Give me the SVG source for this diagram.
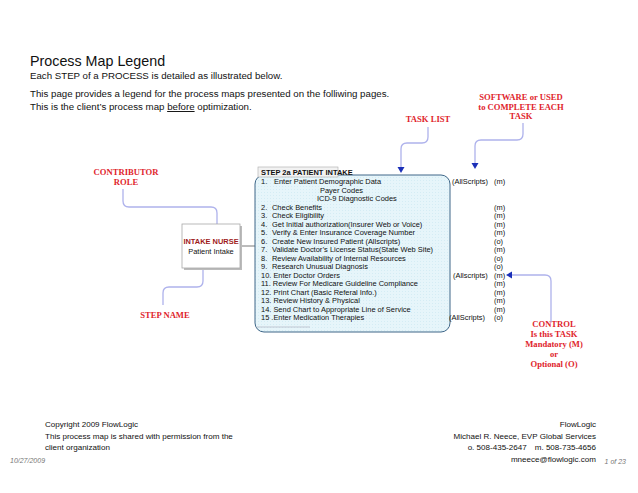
<svg xmlns="http://www.w3.org/2000/svg" width="638" height="493" viewBox="0 0 638 493">
<defs>
<style>
.s{font-family:"Liberation Sans",Arial,sans-serif;fill:#111}
.h1{font-size:14.3px}
.h2{font-size:9.7px}
.t{font-size:7.45px}
.f{font-size:8.05px}
.d{font-size:7px;font-style:italic;fill:#777}
.r{font-family:"Liberation Serif","Times New Roman",serif;font-weight:bold;font-size:8.6px;fill:#e0242c;text-anchor:middle}
.c{fill:none;stroke:#aeb2ec;stroke-width:1.3}
.a{fill:#1b2fb8}
.e{text-anchor:end}
</style>
<pattern id="dots" width="3" height="3" patternUnits="userSpaceOnUse">
<rect width="3" height="3" fill="#e6f5fa"/>
<rect width="1" height="1" fill="#d4ecf4"/>
</pattern>
</defs>
<rect width="638" height="493" fill="#fff"/>

<g id="header">
<text class="s h1" x="30" y="66">Process Map Legend</text>
<text class="s h2" x="30" y="79">Each STEP of a PROCESS is detailed as illustrated below.</text>
<text class="s h2" x="30" y="97">This page provides a legend for the process maps presented on the folliwing pages.</text>
<text class="s h2" x="30" y="110">This is the client’s process map <tspan text-decoration="underline">before</tspan> optimization.</text>
</g>

<g id="labels">
<text class="r" x="521" y="100">SOFTWARE or USED</text>
<text class="r" x="521" y="110">to COMPLETE EACH</text>
<text class="r" x="521" y="119">TASK</text>
<text class="r" x="428" y="122">TASK LIST</text>
<text class="r" x="126" y="175">CONTRIBUTOR</text>
<text class="r" x="126" y="185">ROLE</text>
<text class="r" x="165" y="318">STEP NAME</text>
<text class="r" x="554" y="327">CONTROL</text>
<text class="r" x="554" y="337">Is this TASK</text>
<text class="r" x="554" y="347">Mandatory (M)</text>
<text class="r" x="554" y="357">or</text>
<text class="r" x="554" y="367">Optional (O)</text>
</g>

<g id="connectors">
<path class="c" d="M428,127 V137 Q428,143 422,143 H407 Q401,143 401,149 V168"/>
<path class="a" d="M397.5,167 L404.5,167 L401,173 Z"/>
<path class="c" d="M523,123 V134 Q523,140 517,140 H481 Q475,140 475,146 V164"/>
<path class="a" d="M471.5,163 L478.5,163 L475,169 Z"/>
<path class="c" d="M123,189 V201 Q123,207 129,207 H211 Q217,207 217,213 V226"/>
<path class="a" d="M213.5,225 L220.5,225 L217,231 Z"/>
<path class="c" d="M163,305 V293 Q163,287 169,287 H197 Q203,287 203,281 V264"/>
<path class="a" d="M199.5,265 L206.5,265 L203,259 Z"/>
<path class="c" d="M551,322 V281 Q551,275 545,275 H511"/>
<path class="a" d="M512,271.5 L512,278.5 L506,275 Z"/>
<path d="M241,246 H255" stroke="#555" stroke-width="0.8"/>
</g>

<g id="intake-nurse">
<rect x="184" y="226" width="58" height="44" fill="#bbb"/>
<rect x="182" y="224" width="58" height="44" fill="#fff" stroke="#a8a8a8" stroke-width="0.8"/>
<text class="s t" x="211" y="243.5" text-anchor="middle" font-weight="bold" style="fill:#9e1a1a">INTAKE NURSE</text>
<text class="s t" x="211" y="253.5" text-anchor="middle">Patient Intake</text>
</g>

<g id="step-2a">
<rect x="255" y="175" width="195" height="157" rx="9" fill="url(#dots)" stroke="#3e6688" stroke-width="1"/>
<rect x="258" y="167" width="80" height="10" fill="#f2f2f2" stroke="#aaa" stroke-width="0.6"/>
<text class="s t" x="261" y="175" font-weight="bold">STEP 2a  PATIENT INTAKE</text>
<path d="M256,327 H310" stroke="#aab" stroke-width="0.6"/>
<g class="s t">
<text x="261" y="184">1.</text><text x="274" y="184">Enter Patient Demographic Data</text>
<text x="320" y="192.5">Payer Codes</text>
<text x="317" y="201">ICD-9 Diagnostic Codes</text>
<text x="261" y="209.5">2.</text><text x="272" y="209.5">Check Benefits</text>
<text x="261" y="218">3.</text><text x="272" y="218">Check Eligibility</text>
<text x="261" y="226.5">4.</text><text x="272" y="226.5">Get Initial authorization(Insurer Web or Voice)</text>
<text x="261" y="235">5.</text><text x="272" y="235">Verify &amp; Enter Insurance Coverage Number</text>
<text x="261" y="243.5">6.</text><text x="272" y="243.5">Create New Insured Patient (Allscripts)</text>
<text x="261" y="252">7.</text><text x="272" y="252">Validate Doctor’s License Status(State Web Site)</text>
<text x="261" y="260.5">8.</text><text x="272" y="260.5">Review Availability of Internal Resources</text>
<text x="261" y="269">9.</text><text x="272" y="269">Research Unusual Diagnosis</text>
<text x="261" y="277.5">10. Enter Doctor Orders</text>
<text x="261" y="286">11.  Review For Medicare Guideline Compliance</text>
<text x="261" y="294.5">12.  Print Chart (Basic Referal Info.)</text>
<text x="261" y="303">13.  Review History &amp; Physical</text>
<text x="261" y="311.5">14. Send Chart to Appropriate Line of Service</text>
<text x="261" y="320">15 .Enter Medication Therapies</text>
</g>
<g class="s t">
<text x="452" y="184">(AllScripts)</text>
<text x="453" y="277.5">(Allscripts)</text>
<text x="449" y="320">(AllScripts)</text>
<text x="494" y="184">(m)</text>
<text x="494" y="209.5">(m)</text>
<text x="494" y="218">(m)</text>
<text x="494" y="226.5">(m)</text>
<text x="494" y="235">(m)</text>
<text x="494" y="243.5">(o)</text>
<text x="494" y="252">(m)</text>
<text x="494" y="260.5">(o)</text>
<text x="494" y="269">(o)</text>
<text x="494" y="277.5">(m)</text>
<text x="494" y="286">(m)</text>
<text x="494" y="294.5">(m)</text>
<text x="494" y="303">(m)</text>
<text x="494" y="311.5">(m)</text>
<text x="494" y="320">(o)</text>
</g>
</g>

<g id="footer">
<text class="s f" x="45" y="427">Copyright 2009 FlowLogic</text>
<text class="s f" x="45" y="438.5">This process map is shared with permission from the</text>
<text class="s f" x="45" y="450">client organization</text>
<text class="s d" x="10" y="463">10/27/2009</text>
<text class="s f e" x="596" y="427">FlowLogic</text>
<text class="s f e" x="596" y="438.5">Michael R. Neece, EVP Global Services</text>
<text class="s f e" x="596" y="450">o. 508-435-2647<tspan dx="8">m. 508-735-4656</tspan></text>
<text class="s f e" x="596" y="461.5">mneece@flowlogic.com</text>
<text class="s d e" x="626" y="464">1 of 23</text>
</g>
</svg>
